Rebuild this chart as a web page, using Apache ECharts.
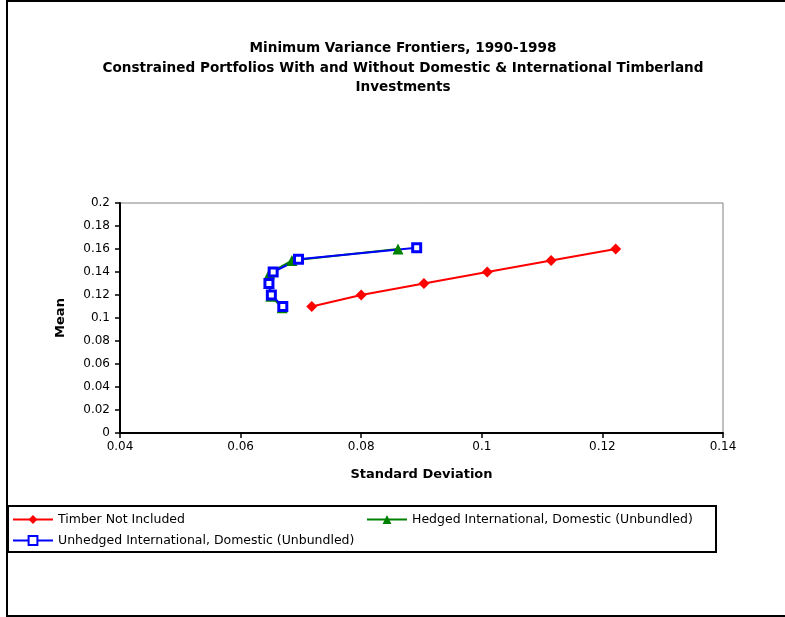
<!DOCTYPE html>
<html>
<head>
<meta charset="utf-8">
<script src="https://cdn.jsdelivr.net/npm/echarts@6/dist/echarts.min.js"></script>
<style>html,body{margin:0;padding:0;background:#fff;}#c{width:785px;height:617px;}</style>
</head>
<body>
<div id="c"></div>
<script>
var seriesNames = ['Timber Not Included', 'Hedged International, Domestic (Unbundled)', 'Unhedged International, Domestic (Unbundled)'];
var timberNotIncludedSD = [0.0718, 0.0800, 0.0904, 0.1009, 0.1115, 0.1222];
var timberNotIncludedMean = [0.110, 0.120, 0.130, 0.140, 0.150, 0.160];
var hedgedSD = [0.0669, 0.0650, 0.0647, 0.0648, 0.0685, 0.0861];
var hedgedMean = [0.109, 0.119, 0.130, 0.139, 0.150, 0.160];
var unhedgedSD = [0.0670, 0.0651, 0.0647, 0.0654, 0.0696, 0.0892];
var unhedgedMean = [0.110, 0.120, 0.130, 0.140, 0.151, 0.161];
var xTicks = [0.04, 0.06, 0.08, 0.1, 0.12, 0.14];
var yTicks = [0, 0.02, 0.04, 0.06, 0.08, 0.1, 0.12, 0.14, 0.16, 0.18, 0.2];

function pairs(xs, ys) { return xs.map(function (x, i) { return [x, ys[i]]; }); }

var font = 'DejaVu Sans, Liberation Sans, Arial, sans-serif';
var chart = echarts.init(document.getElementById('c'), null, { renderer: 'canvas' });
var legendBase = {
  orient: 'horizontal', itemWidth: 40, itemHeight: 11, itemGap: 4,
  textStyle: { fontFamily: font, fontSize: 12.5, color: '#000' }, padding: 0
};
chart.setOption({
  backgroundColor: '#fff',
  animation: false,
  title: {
    text: 'Minimum Variance Frontiers, 1990-1998\nConstrained Portfolios With and Without Domestic & International Timberland\nInvestments',
    left: 398, top: 34, textAlign: 'center',
    textStyle: { fontFamily: font, fontSize: 13.6, fontWeight: 'bold', color: '#000', lineHeight: 19.5 }
  },
  grid: { left: 120, right: 62, top: 203, bottom: 184, show: true, borderColor: '#808080', borderWidth: 1 },
  xAxis: {
    type: 'value', min: 0.04, max: 0.14, interval: 0.02,
    name: 'Standard Deviation', nameLocation: 'middle', nameGap: 35,
    nameTextStyle: { fontFamily: font, fontSize: 13, fontWeight: 'bold', color: '#000' },
    axisLine: { show: true, onZero: false, lineStyle: { color: '#000', width: 2 } },
    axisTick: { show: true, length: 5, inside: false, lineStyle: { color: '#000', width: 1.5 } },
    axisLabel: { fontFamily: font, fontSize: 12, color: '#000', margin: 8,
      formatter: function (v) { return String(+v.toFixed(2)); } },
    splitLine: { show: false }
  },
  yAxis: {
    type: 'value', min: 0, max: 0.2, interval: 0.02,
    name: 'Mean', nameLocation: 'middle', nameGap: 53, nameRotate: 90,
    nameTextStyle: { fontFamily: font, fontSize: 13, fontWeight: 'bold', color: '#000' },
    axisLine: { show: true, onZero: false, lineStyle: { color: '#000', width: 2 } },
    axisTick: { show: true, length: 5, lineStyle: { color: '#000', width: 1.5 } },
    axisLabel: { fontFamily: font, fontSize: 12, color: '#000', margin: 10,
      formatter: function (v) { return String(+v.toFixed(2)); } },
    splitLine: { show: false }
  },
  legend: [
    Object.assign({}, legendBase, { left: 12, top: 513, data: [seriesNames[0]] }),
    Object.assign({}, legendBase, { left: 366, top: 513, data: [seriesNames[1]] }),
    Object.assign({}, legendBase, { left: 12, top: 534, data: [seriesNames[2]] })
  ],
  graphic: [
    { type: 'rect', shape: { x: 8, y: 506, width: 708, height: 46 }, style: { fill: 'none', stroke: '#000', lineWidth: 2 }, silent: true },
    { type: 'polyline', shape: { points: [[785, 1], [7, 1], [7, 616], [785, 616]] }, style: { fill: 'none', stroke: '#000', lineWidth: 2 }, silent: true }
  ],
  series: [
    { name: seriesNames[0], type: 'line', data: pairs(timberNotIncludedSD, timberNotIncludedMean),
      symbol: 'diamond', symbolSize: 11, color: '#ff0000',
      lineStyle: { color: '#ff0000', width: 2 }, itemStyle: { color: '#ff0000' } },
    { name: seriesNames[1], type: 'line', data: pairs(hedgedSD, hedgedMean),
      symbol: 'triangle', symbolSize: 11, color: '#008000',
      lineStyle: { color: '#008000', width: 2 }, itemStyle: { color: '#008000' } },
    { name: seriesNames[2], type: 'line', data: pairs(unhedgedSD, unhedgedMean),
      symbol: 'rect', symbolSize: 8, color: '#0000ff',
      lineStyle: { color: '#0000ff', width: 2 }, itemStyle: { color: '#fff', borderColor: '#0000ff', borderWidth: 3 } }
  ]
});
</script>
</body>
</html>
